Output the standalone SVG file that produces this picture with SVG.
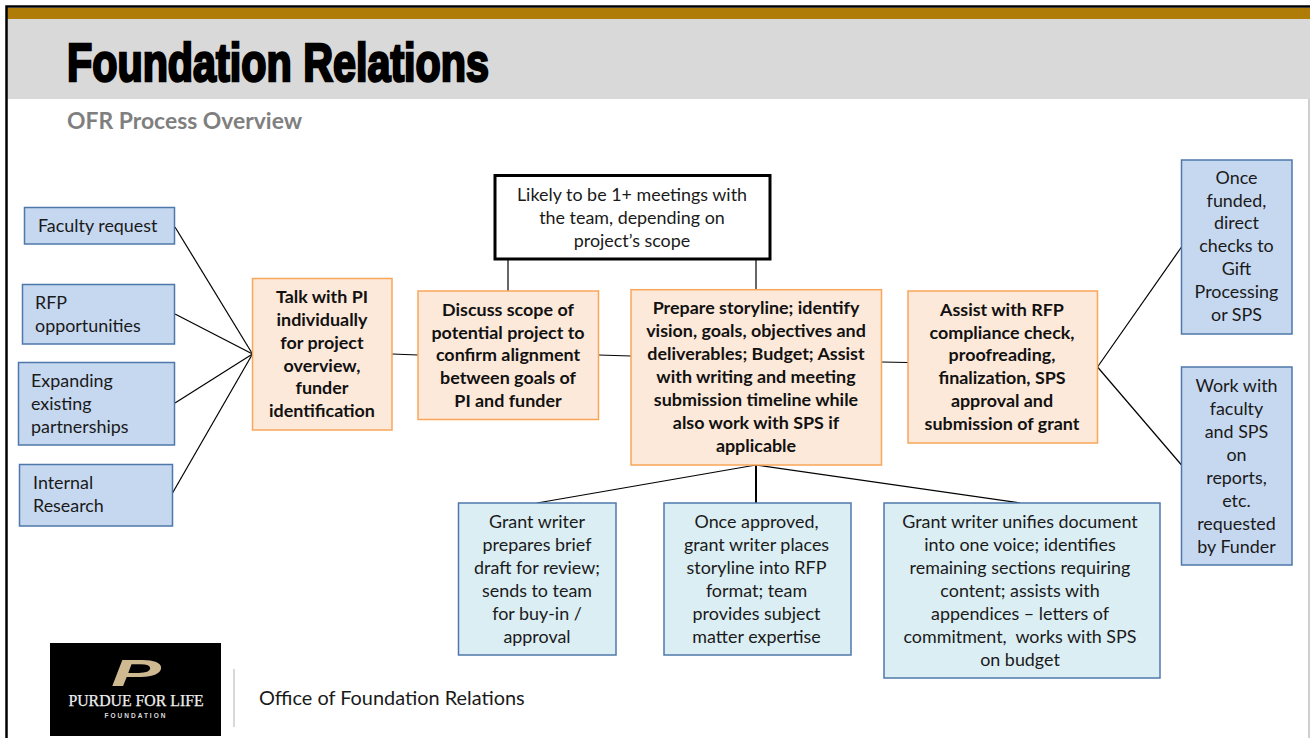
<svg xmlns="http://www.w3.org/2000/svg" width="1310" height="738" viewBox="0 0 1310 738">
<style>
text{font-family:Lato,"Noto Sans","Liberation Sans",sans-serif;font-size:17.9px;fill:#1a1a1a}
.c{text-anchor:middle}
.b{font-weight:700;fill:#111}
.blue rect{fill:#c6d8f0;stroke:#4f78aa;stroke-width:1.5}
.org rect{fill:#fde9d9;stroke:#f9a65a;stroke-width:1.5}
.lt rect{fill:#dbeef4;stroke:#4f78aa;stroke-width:1.5}
#connectors line{stroke:#000;stroke-width:1.2}
</style>
<rect width="1310" height="738" fill="#fff"/>
<g id="header">
<rect x="7" y="19" width="1303" height="80" fill="#d9d9d9"/>
<rect x="7" y="8" width="1303" height="11" fill="#b07c08"/>
<path d="M6.5 738V6.5H1310" fill="none" stroke="#000" stroke-width="2.5"/>
<line x1="1309" y1="99" x2="1309" y2="738" stroke="#bfbfbf" stroke-width="1.5"/>
<text x="67" y="80.5" textLength="422" lengthAdjust="spacingAndGlyphs" style="font-family:'Liberation Sans',sans-serif;font-size:54px;font-weight:700;fill:#000;stroke:#000;stroke-width:2.6">Foundation Relations</text>
<text x="67" y="129" style="font-size:22.9px;font-weight:700;fill:#7f7f7f">OFR Process Overview</text>
</g>
<g id="connectors">
<line x1="175" y1="227" x2="252.5" y2="354"/>
<line x1="175" y1="314" x2="252.5" y2="354"/>
<line x1="175" y1="403" x2="252.5" y2="354"/>
<line x1="172.5" y1="493" x2="252.5" y2="354"/>
<line x1="392" y1="354" x2="418" y2="355"/>
<line x1="598.5" y1="355" x2="631" y2="356"/>
<line x1="881.5" y1="362" x2="908" y2="362.5"/>
<line x1="508" y1="259" x2="508" y2="291"/>
<line x1="756" y1="259" x2="756" y2="290"/>
<line x1="1097.5" y1="367" x2="1181.5" y2="247"/>
<line x1="1097.5" y1="367" x2="1181.5" y2="465"/>
<line x1="756" y1="465" x2="537" y2="503"/>
<line x1="756" y1="465" x2="756" y2="503" style="stroke-width:2"/>
<line x1="756" y1="465" x2="1020" y2="503"/>
</g>
<g id="faculty" class="blue"><rect x="24.5" y="207.5" width="150" height="36.5"/><text x="38" y="232">Faculty request</text></g>
<g id="rfp" class="blue"><rect x="22.5" y="284.5" width="152" height="59.5"/><text x="35" y="309">RFP</text><text x="35" y="332">opportunities</text></g>
<g id="expanding" class="blue"><rect x="18.5" y="362.5" width="156" height="82.5"/><text x="31" y="387">Expanding</text><text x="31" y="410">existing</text><text x="31" y="433">partnerships</text></g>
<g id="internal" class="blue"><rect x="19.5" y="464.5" width="153" height="61.5"/><text x="33" y="489">Internal</text><text x="33" y="512">Research</text></g>
<g id="talk" class="org"><rect x="252.5" y="278.5" width="139.5" height="151.5"/>
<text class="c b" x="322" y="303">Talk with PI</text><text class="c b" x="322" y="326">individually</text><text class="c b" x="322" y="349">for project</text><text class="c b" x="322" y="372">overview,</text><text class="c b" x="322" y="394">funder</text><text class="c b" x="322" y="417">identification</text></g>
<g id="discuss" class="org"><rect x="418" y="291" width="180.5" height="128.5"/>
<text class="c b" x="508" y="316">Discuss scope of</text><text class="c b" x="508" y="339">potential project to</text><text class="c b" x="508" y="361">confirm alignment</text><text class="c b" x="508" y="384">between goals of</text><text class="c b" x="508" y="407">PI and funder</text></g>
<g id="prepare" class="org"><rect x="631" y="289.7" width="250.5" height="175.3"/>
<text class="c b" x="756" y="314">Prepare storyline; identify</text><text class="c b" x="756" y="337">vision, goals, objectives and</text><text class="c b" x="756" y="360">deliverables; Budget; Assist</text><text class="c b" x="756" y="383">with writing and meeting</text><text class="c b" x="756" y="406">submission timeline while</text><text class="c b" x="756" y="429">also work with SPS if</text><text class="c b" x="756" y="452">applicable</text></g>
<g id="assist" class="org"><rect x="908" y="291" width="189.5" height="152"/>
<text class="c b" x="1002" y="316">Assist with RFP</text><text class="c b" x="1002" y="339">compliance check,</text><text class="c b" x="1002" y="361">proofreading,</text><text class="c b" x="1002" y="384">finalization, SPS</text><text class="c b" x="1002" y="407">approval and</text><text class="c b" x="1002" y="430">submission of grant</text></g>
<g id="meetings"><rect x="495" y="175.5" width="275" height="83.5" fill="#fff" stroke="#000" stroke-width="3"/>
<text class="c" x="632" y="201">Likely to be 1+ meetings with</text><text class="c" x="632" y="224">the team, depending on</text><text class="c" x="632" y="247">project’s scope</text></g>
<g id="funded" class="blue"><rect x="1181.5" y="160" width="110.5" height="174"/>
<text class="c" x="1236.5" y="184">Once</text><text class="c" x="1236.5" y="207">funded,</text><text class="c" x="1236.5" y="229">direct</text><text class="c" x="1236.5" y="252">checks to</text><text class="c" x="1236.5" y="275">Gift</text><text class="c" x="1236.5" y="298">Processing</text><text class="c" x="1236.5" y="321">or SPS</text></g>
<g id="work" class="blue"><rect x="1181.5" y="367" width="110.5" height="198"/>
<text class="c" x="1236.5" y="392">Work with</text><text class="c" x="1236.5" y="415">faculty</text><text class="c" x="1236.5" y="438">and SPS</text><text class="c" x="1236.5" y="461">on</text><text class="c" x="1236.5" y="484">reports,</text><text class="c" x="1236.5" y="507">etc.</text><text class="c" x="1236.5" y="530">requested</text><text class="c" x="1236.5" y="553">by Funder</text></g>
<g id="draft" class="lt"><rect x="458.5" y="503" width="157.5" height="152"/>
<text class="c" x="537" y="528">Grant writer</text><text class="c" x="537" y="551">prepares brief</text><text class="c" x="537" y="574">draft for review;</text><text class="c" x="537" y="597">sends to team</text><text class="c" x="537" y="620">for buy-in /</text><text class="c" x="537" y="643">approval</text></g>
<g id="approved" class="lt"><rect x="664" y="503" width="187" height="152"/>
<text class="c" x="756.5" y="528">Once approved,</text><text class="c" x="756.5" y="551">grant writer places</text><text class="c" x="756.5" y="574">storyline into RFP</text><text class="c" x="756.5" y="597">format; team</text><text class="c" x="756.5" y="620">provides subject</text><text class="c" x="756.5" y="643">matter expertise</text></g>
<g id="unifies" class="lt"><rect x="884" y="503" width="276" height="175"/>
<text class="c" x="1020" y="528">Grant writer unifies document</text><text class="c" x="1020" y="551">into one voice; identifies</text><text class="c" x="1020" y="574">remaining sections requiring</text><text class="c" x="1020" y="597">content; assists with</text><text class="c" x="1020" y="620">appendices – letters of</text><text class="c" x="1020" y="643" xml:space="preserve">commitment,  works with SPS</text><text class="c" x="1020" y="666">on budget</text></g>
<g id="logo">
<rect x="50" y="643" width="171" height="93" fill="#000"/>
<text x="111" y="686" textLength="50" lengthAdjust="spacingAndGlyphs" style="font-family:'Liberation Sans',sans-serif;font-size:36px;font-weight:700;font-style:italic;fill:#cfb991">P</text>
<text class="c" x="136" y="706" style="font-family:'Liberation Serif',serif;font-size:15.8px;font-weight:400;fill:#eee;stroke:#eee;stroke-width:.25">PURDUE FOR LIFE</text>
<text class="c" x="136" y="718" style="font-family:'Liberation Sans',sans-serif;font-size:6.5px;font-weight:700;letter-spacing:2px;fill:#ddd">FOUNDATION</text>
<line x1="234" y1="669" x2="234" y2="727" stroke="#bfbfbf" stroke-width="1.2"/>
<text x="259" y="705" style="font-size:19.9px">Office of Foundation Relations</text>
</g>
</svg>
